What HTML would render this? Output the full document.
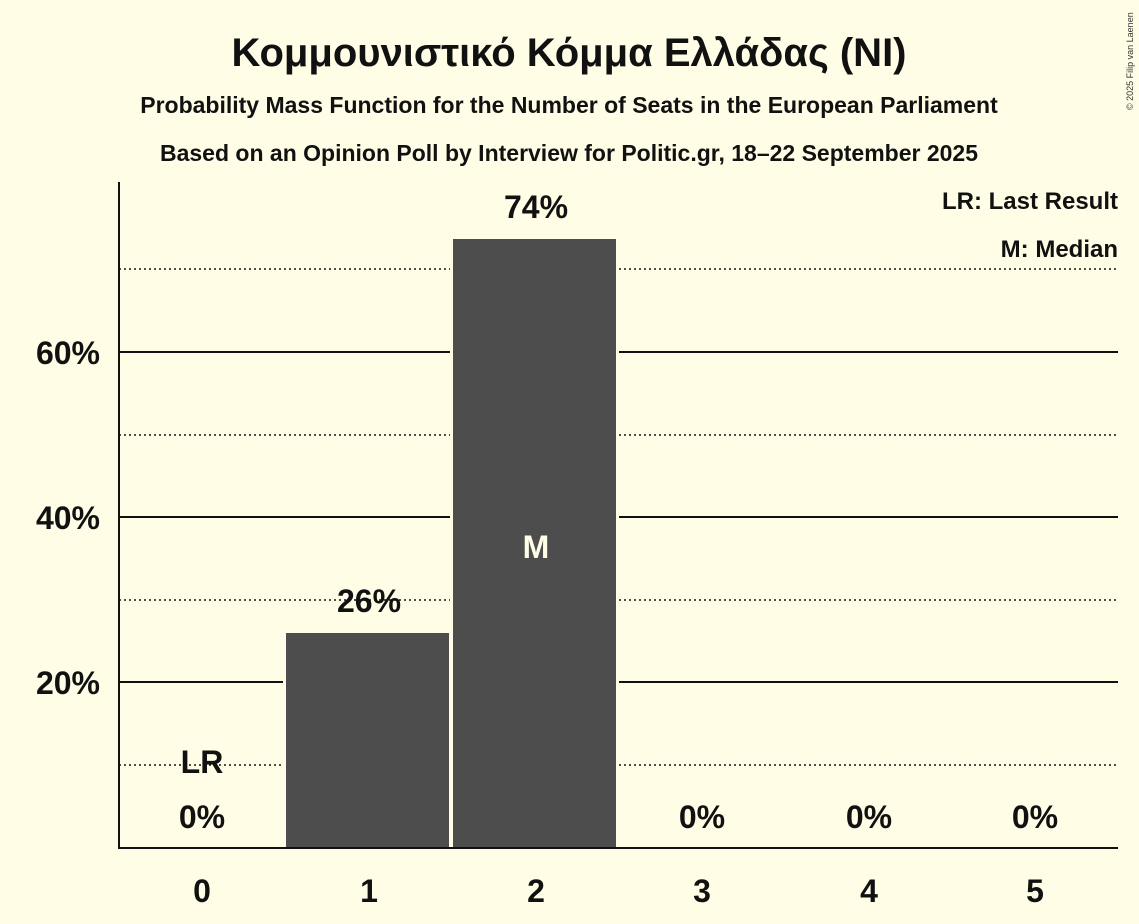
<!DOCTYPE html>
<html><head><meta charset="utf-8"><style>
body{margin:0;background:#fffde5;}
svg{display:block;font-family:"Liberation Sans",sans-serif;font-weight:bold;}
</style></head><body>
<svg width="1139" height="924" viewBox="0 0 1139 924">
<rect width="1139" height="924" fill="#fffde5"/>
<text x="569" y="66" text-anchor="middle" font-size="40" fill="#111">Κομμουνιστικό Κόμμα Ελλάδας (NI)</text>
<text x="569" y="113" text-anchor="middle" font-size="23" fill="#111">Probability Mass Function for the Number of Seats in the European Parliament</text>
<text x="569" y="161" text-anchor="middle" font-size="23" fill="#111">Based on an Opinion Poll by Interview for Politic.gr, 18–22 September 2025</text>
<text x="1133" y="110" font-size="9" font-weight="normal" fill="#333" transform="rotate(-90 1133 110)">© 2025 Filip van Laenen</text>
<g stroke="#111" stroke-width="1.5" stroke-dasharray="2,3">
<line x1="119" y1="765" x2="1118" y2="765"/>
<line x1="119" y1="600" x2="1118" y2="600"/>
<line x1="119" y1="435" x2="1118" y2="435"/>
<line x1="119" y1="269" x2="1118" y2="269"/>
</g>
<g stroke="#111" stroke-width="2">
<line x1="119" y1="682" x2="1118" y2="682"/>
<line x1="119" y1="517" x2="1118" y2="517"/>
<line x1="119" y1="352" x2="1118" y2="352"/>
</g>
<rect x="283" y="630" width="169" height="218" fill="#fffde5"/>
<rect x="450" y="236" width="169" height="612" fill="#fffde5"/>
<rect x="286" y="633" width="163" height="215" fill="#4d4d4d"/>
<rect x="453" y="239" width="163" height="609" fill="#4d4d4d"/>
<line x1="119" y1="182" x2="119" y2="848" stroke="#111" stroke-width="2"/>
<line x1="118" y1="848" x2="1118" y2="848" stroke="#111" stroke-width="2"/>
<g font-size="32" fill="#111" text-anchor="end">
<text x="100" y="694">20%</text>
<text x="100" y="529">40%</text>
<text x="100" y="364">60%</text>
</g>
<g font-size="32" fill="#111" text-anchor="middle">
<text x="202" y="902">0</text><text x="369" y="902">1</text><text x="536" y="902">2</text>
<text x="702" y="902">3</text><text x="869" y="902">4</text><text x="1035" y="902">5</text>
<text x="202" y="828">0%</text><text x="702" y="828">0%</text><text x="869" y="828">0%</text><text x="1035" y="828">0%</text>
<text x="369" y="612">26%</text>
<text x="536" y="218">74%</text>
<text x="202" y="773">LR</text>
<text x="536" y="558" fill="#fffde5">M</text>
</g>
<g font-size="24" fill="#111" text-anchor="end">
<text x="1118" y="209">LR: Last Result</text>
<text x="1118" y="257">M: Median</text>
</g>
</svg>
</body></html>
